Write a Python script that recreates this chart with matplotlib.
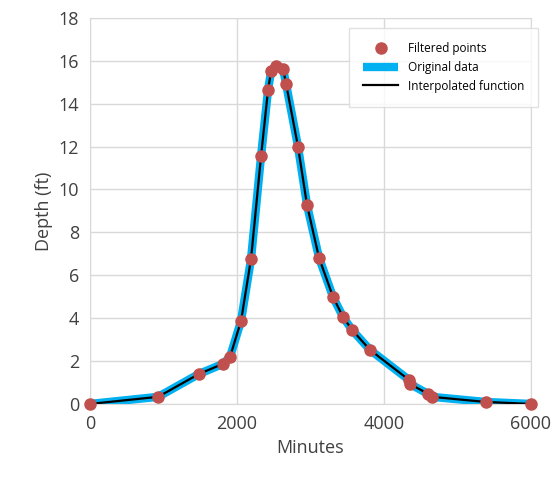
import matplotlib.pyplot as plt

minutes = [0, 925, 1483, 1810, 1905, 2054, 2190, 2327, 2422, 2463, 2531, 2626, 2667,
           2830, 2952, 3116, 3306, 3442, 3565, 3810, 4340, 4354, 4599, 4653, 5388, 6000]
depth = [0.0, 0.33, 1.4, 1.87, 2.2, 3.87, 6.76, 11.57, 14.65, 15.5, 15.77, 15.63, 14.93,
         11.99, 9.28, 6.81, 4.99, 4.06, 3.45, 2.52, 1.12, 0.93, 0.47, 0.33, 0.09, 0.0]

plt.rcParams['font.family'] = ['Open Sans', 'DejaVu Sans']
fig = plt.figure(figsize=(5.6, 4.82), dpi=100)
ax = fig.add_axes([0.161, 0.162, 0.787, 0.801])

ax.plot(minutes, depth, color='#00b0f0', lw=6, solid_capstyle='butt', label='Original data', zorder=2)
ax.plot(minutes, depth, color='black', lw=1.6, label='Interpolated function', zorder=3)
ax.plot(minutes, depth, 'o', color='#c0504d', ms=8, ls='none', label='Filtered points',
        zorder=4, clip_on=False)

ax.set_xlim(0, 6000)
ax.set_ylim(0, 18)
ax.set_xticks([0, 2000, 4000, 6000])
ax.set_yticks(range(0, 19, 2))
ax.grid(color='#d9d9d9', lw=1)
ax.set_axisbelow(True)
for s in ax.spines.values():
    s.set_color('#d9d9d9')
ax.tick_params(length=0, labelsize=13, colors='#404040', pad=8)
ax.set_xlabel('Minutes', fontsize=13, color='#404040')
ax.set_ylabel('Depth (ft)', fontsize=13, color='#404040')

h, l = ax.get_legend_handles_labels()
leg = ax.legend([h[2], h[0], h[1]], [l[2], l[0], l[1]], loc='upper right',
                bbox_to_anchor=(1.03, 0.99), fontsize=8.5, frameon=True, fancybox=False,
                edgecolor='#d9d9d9', borderpad=1.2, handlelength=3, handletextpad=0.8,
                labelspacing=0.5)
leg.get_frame().set_linewidth(1)

fig.savefig('out.png', dpi=100)
